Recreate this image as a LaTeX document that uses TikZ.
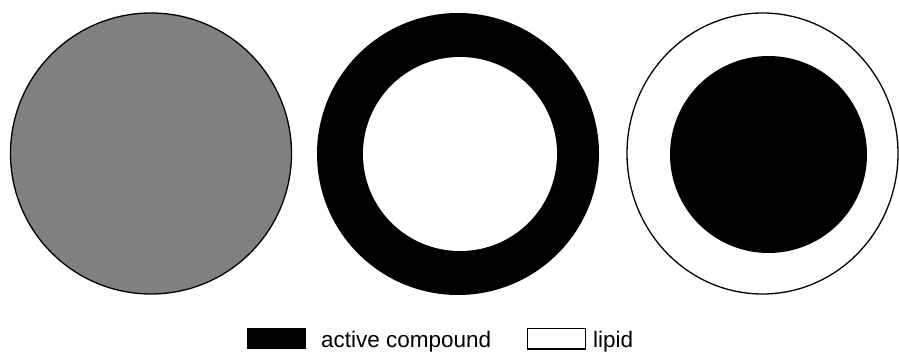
\documentclass[tikz,border=0pt]{standalone}
\usepackage{fontspec}
\setmainfont{Liberation Sans}
\usetikzlibrary{shapes.geometric}
\begin{document}
\begin{tikzpicture}[x=1pt,y=-1pt,
  disc/.style={circle,inner sep=0pt,outer sep=0pt},
  legendbox/.style={draw,line width=1pt,inner sep=0pt,outer sep=0pt,minimum width=58pt,minimum height=20pt},
  legendtext/.style={anchor=base west,inner sep=0pt,font=\fontsize{22.5}{26}\selectfont}]
\useasboundingbox (0,0) rectangle (899,352);
\clip (0,0) rectangle (899,352);
% particle 1: homogeneous
\node[disc,draw,line width=1.3pt,fill={rgb,255:red,128;green,128;blue,128},minimum size=281pt] (p1) at (151,153.5) {};
% particle 2: active shell, lipid core
\node[disc,fill=black,minimum size=282pt] (p2) at (458,154) {};
\node[disc,fill=white,minimum size=194pt] (p2core) at (460,154) {};
% particle 3: lipid shell, active core
\node[ellipse,inner sep=0pt,outer sep=0pt,draw,line width=1.3pt,fill=white,minimum width=271pt,minimum height=281pt] (p3) at (762.5,153.5) {};
\node[disc,fill=black,minimum size=197pt] (p3core) at (768.5,154.5) {};
% legend
\node[legendbox,fill=black] (lb1) at (276,338.5) {};
\node[legendtext] (lt1) at (321,347.3) {active compound};
\node[legendbox,fill=white] (lb2) at (556,339) {};
\node[legendtext] (lt2) at (593,347.3) {lipid};
\end{tikzpicture}
\end{document}
